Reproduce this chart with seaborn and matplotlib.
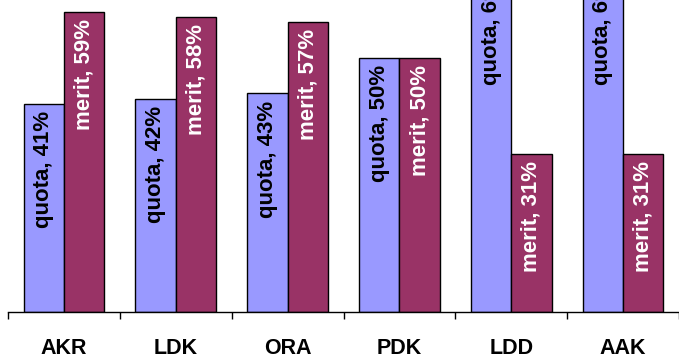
import matplotlib
matplotlib.use("Agg")
import matplotlib.pyplot as plt
import matplotlib.transforms as mtransforms
import seaborn as sns
import pandas as pd
import numpy as np

categories = ["AKR", "LDK", "ORA", "PDK", "LDD", "AAK"]
quota = [41, 42, 43, 50, 69, 69]
merit = [59, 58, 57, 50, 31, 31]
series = ["quota", "merit"]
colors = {"quota": "#9999FF", "merit": "#993366"}
label_colors = {"quota": "black", "merit": "white"}

df = pd.DataFrame({
    "cat": categories * 2,
    "series": ["quota"] * len(categories) + ["merit"] * len(categories),
    "value": quota + merit,
})

sns.set_style("white")
plt.rcParams["font.family"] = ["Liberation Sans", "DejaVu Sans"]
plt.rcParams["text.color"] = "black"
plt.rcParams["xtick.color"] = "black"

fig = plt.figure(figsize=(6.79, 3.61), dpi=100)
ax = fig.add_axes([8 / 679, 49 / 361, 1 - 8 / 679, 312 / 361])

sns.barplot(data=df, x="cat", y="value", hue="series", hue_order=series,
            order=categories, palette=colors, width=0.72, gap=0,
            edgecolor="black", linewidth=1, saturation=1, ax=ax, legend=False)

ax.set_ylim(0, 61.4)
ax.set_xlim(-0.5, len(categories) - 0.5)

for s, cont in zip(series, ax.containers):
    for p in cont:
        h = p.get_height()
        x = p.get_x() + p.get_width() / 2
        off = mtransforms.offset_copy(ax.transData, fig=fig, x=0, y=-5, units="points")
        ax.text(x, h, f"{s}, {int(round(h))}%", rotation=90, ha="center", va="top",
                fontsize=16, fontweight="bold", color=label_colors[s],
                transform=off, clip_on=True)

for sp in ["left", "right", "top"]:
    ax.spines[sp].set_visible(False)
ax.spines["bottom"].set_color("black")
ax.spines["bottom"].set_linewidth(1)

ax.set_yticks([])
ax.set_xlabel("")
ax.set_ylabel("")
ax.set_xticks(range(len(categories)))
ax.set_xticklabels(categories, fontsize=15.5, fontweight="bold", color="black")
ax.tick_params(axis="x", which="major", length=0, pad=19, labelcolor="black")
ax.set_xticks(np.arange(-0.5, len(categories), 1.0), minor=True)
ax.tick_params(axis="x", which="minor", length=5, width=1, color="black", direction="out", bottom=True)

fig.savefig("out.png", dpi=100)
